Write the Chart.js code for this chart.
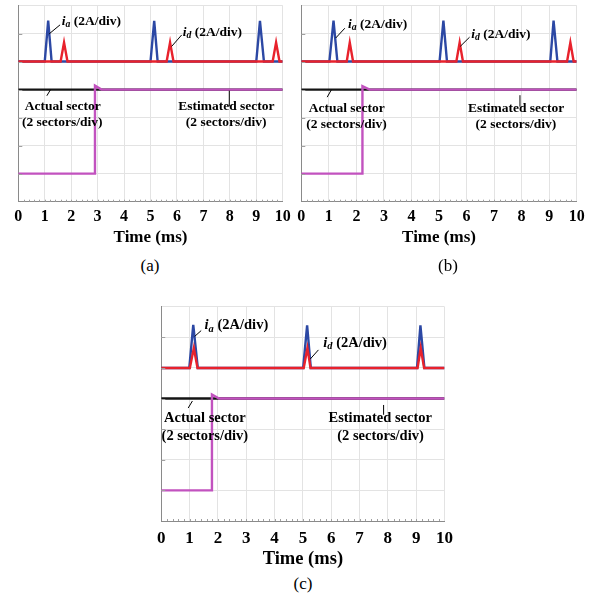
<!DOCTYPE html>
<html>
<head>
<meta charset="utf-8">
<title>Sector estimation</title>
<script src="https://cdn.jsdelivr.net/npm/chart.js@4.4.1/dist/chart.umd.min.js"></script>
<style>
    body { margin: 0; background: #fff; }
    #page { position: relative; width: 598px; height: 603px; overflow: hidden; }
    canvas { position: absolute; }
    .caption { position: absolute; width: 60px; text-align: center; font: 17px "Liberation Serif", serif; color: #000; line-height: 20px; }
</style>
</head>
<body>
<div id="page">
    <canvas id="chartA" width="298" height="248" style="left:0;top:0"></canvas>
    <canvas id="chartB" width="308" height="248" style="left:290px;top:0"></canvas>
    <canvas id="chartC" width="310" height="271" style="left:150px;top:300px"></canvas>
    <div class="caption" style="left:120px;top:256px">(a)</div>
    <div class="caption" style="left:418px;top:256px">(b)</div>
    <div class="caption" style="left:273px;top:574px">(c)</div>
</div>
<script>
// time axis in ms, vertical axis in scope divisions (0 at the bottom, 7 at the top)

// (a)
const iaTimeA = [0, 1.0, 1.13, 1.26, 5.0, 5.14, 5.27, 9.0, 9.14, 9.29, 10];
const iaValA  = [5, 5, 6.46, 5, 5, 6.45, 5, 5, 6.45, 5, 5];
const idTimeA = [0, 1.6, 1.73, 1.86, 5.61, 5.74, 5.87, 9.62, 9.75, 9.88, 10];
const idValA  = [5, 5, 5.68, 5, 5, 5.68, 5, 5, 5.68, 5, 5];
const actTimeA = [0, 10];
const actValA  = [4, 4];
const estTimeA = [0, 2.9, 2.9, 3.15, 10];
const estValA  = [1, 1, 4.14, 4, 4];

// (b)
const iaTimeB = [0, 1.02, 1.17, 1.31, 5.02, 5.16, 5.29, 9.04, 9.16, 9.3, 10];
const iaValB  = [5, 5, 6.46, 5, 5, 6.46, 5, 5, 6.46, 5, 5];
const idTimeB = [0, 1.65, 1.76, 1.88, 5.63, 5.75, 5.87, 9.65, 9.77, 9.89, 10];
const idValB  = [5, 5, 5.68, 5, 5, 5.68, 5, 5, 5.68, 5, 5];
const actTimeB = [0, 10];
const actValB  = [4, 4];
const estTimeB = [0, 2.22, 2.22, 2.48, 10];
const estValB  = [1, 1, 4.12, 4, 4];

// (c)
const iaTimeC = [0, 0.99, 1.13, 1.29, 5.01, 5.15, 5.28, 9.03, 9.15, 9.29, 10];
const iaValC  = [5, 5, 6.41, 5, 5, 6.39, 5, 5, 6.39, 5, 5];
const idTimeC = [0, 1.01, 1.15, 1.28, 5.03, 5.16, 5.27, 9.05, 9.16, 9.28, 10];
const idValC  = [5, 5, 5.65, 5, 5, 5.65, 5, 5, 5.65, 5, 5];
const actTimeC = [0, 10];
const actValC  = [4, 4];
const estTimeC = [0, 1.79, 1.79, 2.04, 10];
const estValC  = [1, 1, 4.13, 4, 4];

const timeTicks = [0, 1, 2, 3, 4, 5, 6, 7, 8, 9, 10];

// text labels anchored in (ms, div)
const labelsA = [
    { sub: 'a', at: [1.64, 6.43] },
    { sub: 'd', at: [6.22, 6.04] },
    { text: 'Actual sector', at: [1.68, 3.39] },
    { text: '(2 sectors/div)', at: [1.66, 2.82] },
    { text: 'Estimated sector', at: [7.87, 3.39] },
    { text: '(2 sectors/div)', at: [7.86, 2.82] }
];
const leadersA = [[1.58, 6.31, 1.17, 5.99], [6.18, 5.95, 5.8, 5.54], [1.22, 4.0, 1.08, 3.78], [7.98, 3.96, 7.98, 3.4]];

const labelsB = [
    { sub: 'a', at: [1.7, 6.31] },
    { sub: 'd', at: [6.17, 5.98] },
    { text: 'Actual sector', at: [1.65, 3.33] },
    { text: '(2 sectors/div)', at: [1.64, 2.74] },
    { text: 'Estimated sector', at: [7.8, 3.33] },
    { text: '(2 sectors/div)', at: [7.79, 2.76] }
];
const leadersB = [[1.58, 6.19, 1.25, 5.84], [6.11, 5.87, 5.77, 5.54], [1.09, 3.99, 0.94, 3.73], [7.94, 3.8, 7.94, 3.39]];

const labelsC = [
    { sub: 'a', at: [1.53, 6.38] },
    { sub: 'd', at: [5.72, 5.81] },
    { text: 'Actual sector', at: [1.54, 3.36] },
    { text: '(2 sectors/div)', at: [1.54, 2.76] },
    { text: 'Estimated sector', at: [7.73, 3.36] },
    { text: '(2 sectors/div)', at: [7.74, 2.76] }
];
const leadersC = [[1.41, 6.22, 1.18, 6.03], [5.55, 5.59, 5.26, 5.29], [1.1, 3.92, 0.95, 3.69], [7.85, 3.79, 7.85, 3.47]];

const SERIF = '"Liberation Serif", "Times New Roman", serif';

function pts(xs, ys) {
    return xs.map((x, i) => ({ x: x, y: ys[i] }));
}

// leader lines and trace names, drawn after the traces
const traceLabels = {
    id: 'traceLabels',
    afterDatasetsDraw(chart, args, opts) {
        const ctx = chart.ctx;
        const sx = chart.scales.x, sy = chart.scales.y;
        const size = opts.size;
        ctx.save();
        ctx.strokeStyle = '#000';
        ctx.fillStyle = '#000';
        ctx.lineWidth = 1;
        opts.leaders.forEach(l => {
            ctx.beginPath();
            ctx.moveTo(sx.getPixelForValue(l[0]), sy.getPixelForValue(l[1]));
            ctx.lineTo(sx.getPixelForValue(l[2]), sy.getPixelForValue(l[3]));
            ctx.stroke();
        });
        ctx.textBaseline = 'middle';
        opts.labels.forEach(lab => {
            const px = sx.getPixelForValue(lab.at[0]);
            const py = sy.getPixelForValue(lab.at[1]);
            if (lab.sub) {
                ctx.textAlign = 'left';
                ctx.font = 'italic bold ' + size + 'px ' + SERIF;
                ctx.fillText('i', px, py);
                let w = ctx.measureText('i').width;
                ctx.font = 'italic bold ' + (size * 0.72) + 'px ' + SERIF;
                ctx.fillText(lab.sub, px + w, py + size * 0.22);
                w += ctx.measureText(lab.sub).width;
                ctx.font = 'bold ' + size + 'px ' + SERIF;
                ctx.fillText(' (2A/div)', px + w, py);
            } else {
                ctx.textAlign = 'center';
                ctx.font = 'bold ' + size + 'px ' + SERIF;
                ctx.fillText(lab.text, px, py);
            }
        });
        ctx.restore();
    }
};

// small tick marks along the bottom and left frame
const frameTicks = {
    id: 'frameTicks',
    afterDraw(chart) {
        const ctx = chart.ctx;
        const a = chart.chartArea;
        const sx = chart.scales.x, sy = chart.scales.y;
        ctx.save();
        ctx.strokeStyle = '#a0a0a0';
        ctx.lineWidth = 1;
        ctx.beginPath();
        for (let k = 1; k < 50; k++) {
            const px = Math.round(sx.getPixelForValue(k * 0.2)) + 0.5;
            ctx.moveTo(px, a.bottom);
            ctx.lineTo(px, a.bottom - 2);
        }
        for (let k = 1; k < 7; k++) {
            const py = Math.round(sy.getPixelForValue(k)) + 0.5;
            ctx.moveTo(a.left, py);
            ctx.lineTo(a.left + 4, py);
        }
        ctx.stroke();
        ctx.restore();
    }
};

function makeScope(id, traces, labels, leaders, look) {
    const datasets = [
        { label: 'Estimated sector', data: pts(traces.estT, traces.estV), borderColor: '#c252bf' },
        { label: 'Actual sector', data: pts(traces.actT, traces.actV), borderColor: '#141414' },
        { label: 'i_d', data: pts(traces.idT, traces.idV), borderColor: '#e8222c' },
        { label: 'i_a', data: pts(traces.iaT, traces.iaV), borderColor: '#2c48a4' }
    ];
    datasets.forEach(d => {
        d.borderWidth = 2.4;
        d.pointRadius = 0;
        d.tension = 0;
        d.fill = false;
        d.borderJoinStyle = 'miter';
    });

    return new Chart(document.getElementById(id), {
        type: 'line',
        data: { datasets: datasets },
        plugins: [traceLabels, frameTicks],
        options: {
            responsive: false,
            animation: false,
            devicePixelRatio: 1,
            layout: { padding: look.padding },
            plugins: {
                legend: { display: false },
                tooltip: { enabled: false },
                traceLabels: { labels: labels, leaders: leaders, size: look.labelSize }
            },
            scales: {
                x: {
                    type: 'linear',
                    min: 0,
                    max: 10,
                    afterBuildTicks: s => { s.ticks = timeTicks.map(v => ({ value: v })); },
                    ticks: {
                        color: '#000',
                        padding: look.tickPad,
                        maxRotation: 0,
                        autoSkip: false,
                        font: { family: SERIF, weight: 'bold', size: look.tickSize }
                    },
                    grid: { color: '#e3e3e3', drawTicks: false },
                    border: { color: '#8a8a8a' },
                    title: {
                        display: true,
                        text: 'Time (ms)',
                        color: '#000',
                        padding: { top: 0, bottom: look.titlePad },
                        font: { family: SERIF, weight: 'bold', size: look.titleSize }
                    },
                    afterFit: s => { s.height = look.axisHeight; }
                },
                y: {
                    type: 'linear',
                    min: 0,
                    max: 7,
                    ticks: { display: false, stepSize: 1 },
                    grid: { color: '#e3e3e3', drawTicks: false },
                    border: { color: '#8a8a8a' },
                    afterFit: s => { s.width = 0; }
                }
            }
        }
    });
}

makeScope('chartA',
    { iaT: iaTimeA, iaV: iaValA, idT: idTimeA, idV: idValA, actT: actTimeA, actV: actValA, estT: estTimeA, estV: estValA },
    labelsA, leadersA,
    { padding: { left: 18.3, right: 15.3, top: 5.5, bottom: 0 }, axisHeight: 46.3, tickPad: 6, tickSize: 16, titleSize: 17, titlePad: 0.5, labelSize: 13.5 });

makeScope('chartB',
    { iaT: iaTimeB, iaV: iaValB, idT: idTimeB, idV: idValB, actT: actTimeB, actV: actValB, estT: estTimeB, estV: estValB },
    labelsB, leadersB,
    { padding: { left: 11.3, right: 21.3, top: 5.5, bottom: 0 }, axisHeight: 46.3, tickPad: 6, tickSize: 16, titleSize: 17, titlePad: 0.5, labelSize: 13.5 });

makeScope('chartC',
    { iaT: iaTimeC, iaV: iaValC, idT: idTimeC, idV: idValC, actT: actTimeC, actV: actValC, estT: estTimeC, estV: estValC },
    labelsC, leadersC,
    { padding: { left: 10.7, right: 9.3, top: 6.7, bottom: 0 }, axisHeight: 50, tickPad: 7, tickSize: 17, titleSize: 18.5, titlePad: 0.6, labelSize: 14.5 });
</script>
</body>
</html>
